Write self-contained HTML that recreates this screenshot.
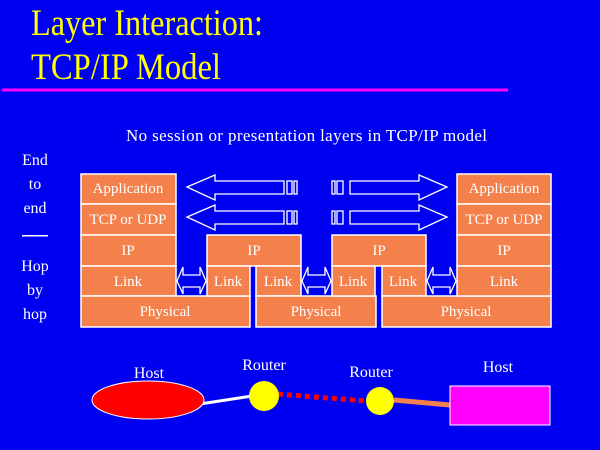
<!DOCTYPE html>
<html><head><style>
html,body{margin:0;padding:0;background:#0000f0;}
svg{display:block;font-family:"Liberation Serif",serif;}
</style></head><body>
<svg width="600" height="450" viewBox="0 0 600 450" xmlns="http://www.w3.org/2000/svg">
<rect width="600" height="450" fill="#0000f0"/>
<text x="31" y="35" fill="#ffff00" font-size="37" textLength="232" lengthAdjust="spacingAndGlyphs">Layer Interaction:</text>
<text x="31" y="79" fill="#ffff00" font-size="37" textLength="190" lengthAdjust="spacingAndGlyphs">TCP/IP Model</text>
<rect x="2" y="88.5" width="506" height="3" fill="#ff00ff"/>
<text x="126" y="141" fill="#fff" font-size="17" textLength="361">No session or presentation layers in TCP/IP model</text>
<g fill="#fff" font-size="16" text-anchor="middle">
<text x="35" y="165">End</text>
<text x="35" y="189">to</text>
<text x="35" y="213">end</text>
<rect x="22" y="235" width="26" height="1.5"/>
<text x="35" y="271">Hop</text>
<text x="35" y="295">by</text>
<text x="35" y="319">hop</text>
</g>
<g fill="#f4804c" stroke="#fff" stroke-width="1.5">
<rect x="81" y="174" width="95" height="30"/>
<rect x="81" y="204" width="95" height="31"/>
<rect x="81" y="235" width="95" height="31"/>
<rect x="81" y="266" width="95" height="30"/>
<rect x="81" y="296" width="169" height="31"/>
<rect x="207" y="235" width="94" height="31"/>
<rect x="207" y="266" width="43" height="30"/>
<rect x="256" y="266" width="45" height="30"/>
<rect x="256" y="296" width="120" height="31"/>
<rect x="332" y="235" width="94" height="31"/>
<rect x="332" y="266" width="43" height="30"/>
<rect x="382" y="266" width="44" height="30"/>
<rect x="382" y="296" width="169" height="31"/>
<rect x="457" y="174" width="94" height="30"/>
<rect x="457" y="204" width="94" height="31"/>
<rect x="457" y="235" width="94" height="31"/>
<rect x="457" y="266" width="94" height="30"/>
</g>
<g fill="#fff" font-size="15" text-anchor="middle">
<text x="128" y="193">Application</text>
<text x="128" y="224">TCP or UDP</text>
<text x="128" y="255">IP</text>
<text x="128" y="286">Link</text>
<text x="165" y="316">Physical</text>
<text x="254" y="255">IP</text>
<text x="228" y="286">Link</text>
<text x="278" y="286">Link</text>
<text x="316" y="316">Physical</text>
<text x="379" y="255">IP</text>
<text x="353" y="286">Link</text>
<text x="403" y="286">Link</text>
<text x="466" y="316">Physical</text>
<text x="504" y="193">Application</text>
<text x="504" y="224">TCP or UDP</text>
<text x="504" y="255">IP</text>
<text x="504" y="286">Link</text>
</g>
<g fill="none" stroke="#fff" stroke-width="1.3">
<path d="M187,187 L215,175 L215,181 L284,181 L284,194 L215,194 L215,200 Z"/>
<rect x="287" y="181" width="5" height="13"/><rect x="294" y="181" width="3" height="13"/>
<path d="M447,187 L419,175 L419,181 L350,181 L350,194 L419,194 L419,200 Z"/>
<rect x="337" y="181" width="6" height="13"/><rect x="332" y="181" width="3" height="13"/>
<path d="M187,217 L215,205 L215,211 L284,211 L284,224 L215,224 L215,230 Z"/>
<rect x="287" y="211" width="5" height="13"/><rect x="294" y="211" width="3" height="13"/>
<path d="M447,217 L419,205 L419,211 L350,211 L350,224 L419,224 L419,230 Z"/>
<rect x="337" y="211" width="6" height="13"/><rect x="332" y="211" width="3" height="13"/>
<path d="M177,281 L183,267 L183,275 L200,275 L200,267 L206,281 L200,294 L200,287 L183,287 L183,294 Z"/>
<path d="M302,281 L308,267 L308,275 L325,275 L325,267 L331,281 L325,294 L325,287 L308,287 L308,294 Z"/>
<path d="M427,281 L433,267 L433,275 L450,275 L450,267 L456,281 L450,294 L450,287 L433,287 L433,294 Z"/>
</g>
<line x1="200" y1="404" x2="252" y2="396" stroke="#fff" stroke-width="3"/>
<line x1="278" y1="394" x2="366" y2="401" stroke="#f00" stroke-width="5" stroke-dasharray="5,4"/>
<path d="M394,400 L450,405" stroke="#f4804c" stroke-width="5" fill="none"/>
<ellipse cx="148" cy="400" rx="56" ry="19" fill="#f00" stroke="#fff" stroke-width="1"/>
<circle cx="264" cy="396" r="15" fill="#ffff00"/>
<circle cx="380" cy="401" r="14" fill="#ffff00"/>
<rect x="450" y="386" width="100" height="39" fill="#ff00ff" stroke="#fff" stroke-width="1"/>
<g fill="#fff" font-size="16" text-anchor="middle">
<text x="149" y="378">Host</text>
<text x="264" y="370">Router</text>
<text x="371" y="377">Router</text>
<text x="498" y="372">Host</text>
</g>
</svg>
</body></html>
